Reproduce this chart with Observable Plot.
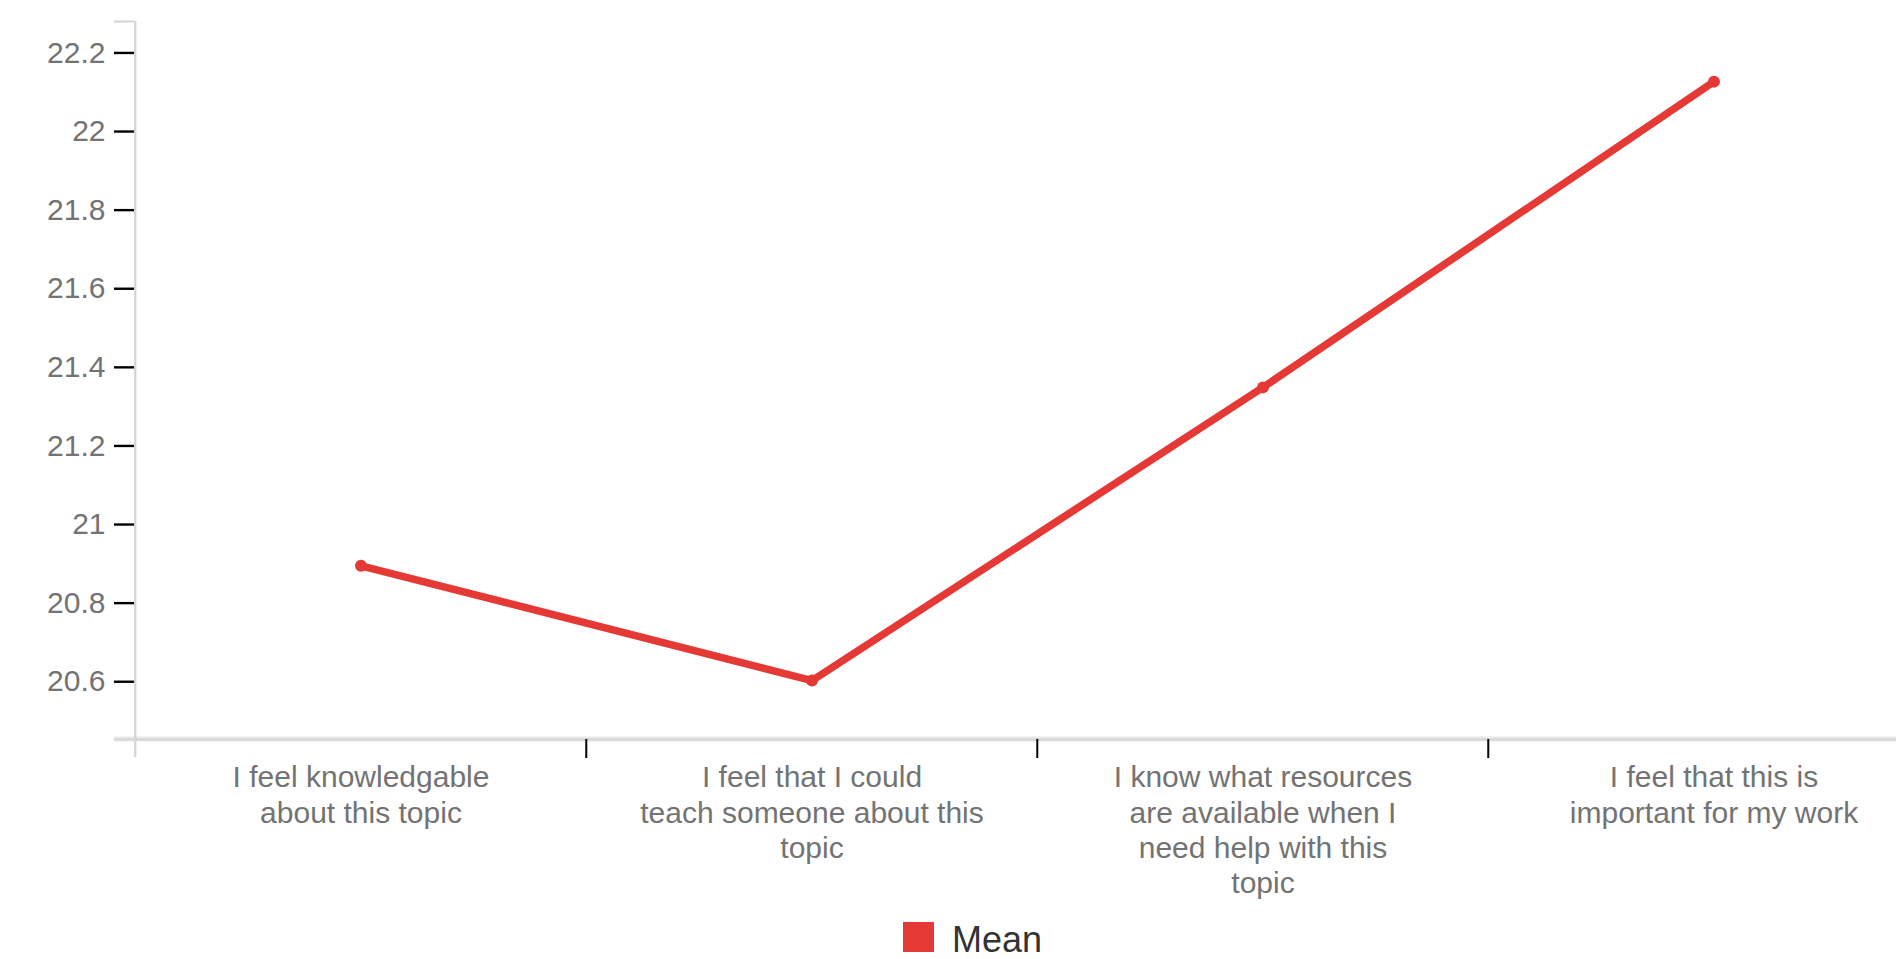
<!DOCTYPE html>
<html>
<head>
<meta charset="utf-8">
<script src="https://cdn.jsdelivr.net/npm/d3@7"></script>
<script src="https://cdn.jsdelivr.net/npm/@observablehq/plot@0.6"></script>
<style>
  html, body { margin: 0; padding: 0; background: white; overflow: hidden; }
  #wrap { position: relative; width: 1896px; height: 959px; }
  #legend { position: absolute; left: 903px; top: 922px; display: flex; align-items: baseline;
            font-family: "Liberation Sans", Arial, sans-serif; font-size: 36px; line-height: 1; color: #333; }
  #legend .sw { display: inline-block; width: 31px; height: 30px; margin-right: 18px; }
</style>
</head>
<body>
<div id="wrap"><div id="chart"></div><div id="legend"></div></div>
<script>
// ---- data ----
const categories = [
  "I feel knowledgable about this topic",
  "I feel that I could teach someone about this topic",
  "I know what resources are available when I need help with this topic",
  "I feel that this is important for my work"
];
const categoryLabels = [
  "I feel knowledgable\nabout this topic",
  "I feel that I could\nteach someone about this\ntopic",
  "I know what resources\nare available when I\nneed help with this\ntopic",
  "I feel that this is\nimportant for my work"
];
const meanValues = [20.895, 20.603, 21.349, 22.127];
const yTicks = [20.6, 20.8, 21, 21.2, 21.4, 21.6, 21.8, 22, 22.2];
const yTickLabels = ["20.6", "20.8", "21", "21.2", "21.4", "21.6", "21.8", "22", "22.2"];
const yDomain = [20.453, 22.28];
const seriesName = "Mean";
const seriesColor = "#e53935";

// ---- layout ----
const W = 1896, H = 905, ML = 134, MT = 21, MB = 166;
const xRange = [134, 1939.8];
const bw = (xRange[1] - xRange[0]) / categories.length;
const labelColor = "#737373";

const data = categories.map((c, i) => ({category: c, value: meanValues[i]}));

const chart = Plot.plot({
  width: W, height: H,
  marginLeft: ML, marginRight: 0, marginTop: MT, marginBottom: MB,
  style: {fontFamily: "'Liberation Sans', Arial, sans-serif", fontSize: "30px", background: "white"},
  x: {type: "band", domain: categories, range: xRange, padding: 0, axis: null},
  y: {domain: yDomain, axis: null},
  marks: [
    // x axis baseline (extends left as outer tick)
    Plot.ruleY([yDomain[0]], {stroke: "#f1f1f1", strokeWidth: 2, dy: -2.5, insetLeft: -20}),
    Plot.ruleY([yDomain[0]], {stroke: "#dadada", strokeWidth: 3.5, insetLeft: -20}),
    // y axis domain line (extends below as outer tick)
    Plot.ruleX([categories[0]], {dx: -bw / 2, stroke: "#d3d3d3", strokeWidth: 2.2, insetBottom: -18}),
    // top outer tick
    Plot.ruleY([yDomain[1]], {stroke: "#d3d3d3", strokeWidth: 2, insetLeft: -20, insetRight: W - ML}),
    // y ticks and labels
    Plot.axisY({anchor: "left", ticks: yTicks, tickSize: 20, tickPadding: 9, label: null,
      stroke: "black", strokeWidth: 2.4, fill: labelColor, fontSize: 30,
      tickFormat: d => yTickLabels[yTicks.indexOf(d)]}),
    // x ticks at band boundaries
    Plot.axisX({anchor: "bottom", ticks: categories.slice(1), tickSize: 19, dx: -bw / 2, label: null,
      stroke: "black", strokeWidth: 2, fill: "none"}),
    // x labels at band centres
    Plot.axisX({anchor: "bottom", ticks: categories, tickSize: 0, tickPadding: 22.5, label: null,
      tickFormat: d => categoryLabels[categories.indexOf(d)], fill: labelColor, fontSize: 30,
      lineHeight: 1.18}),
    // series
    Plot.line(data, {x: "category", y: "value", stroke: seriesColor, strokeWidth: 7.5}),
    Plot.dot(data, {x: "category", y: "value", r: 6, fill: seriesColor})
  ]
});
document.getElementById("chart").appendChild(chart);

const legend = document.getElementById("legend");
const sw = document.createElement("span");
sw.className = "sw";
sw.style.background = seriesColor;
const lab = document.createElement("span");
lab.textContent = seriesName;
legend.appendChild(sw);
legend.appendChild(lab);
</script>
</body>
</html>
